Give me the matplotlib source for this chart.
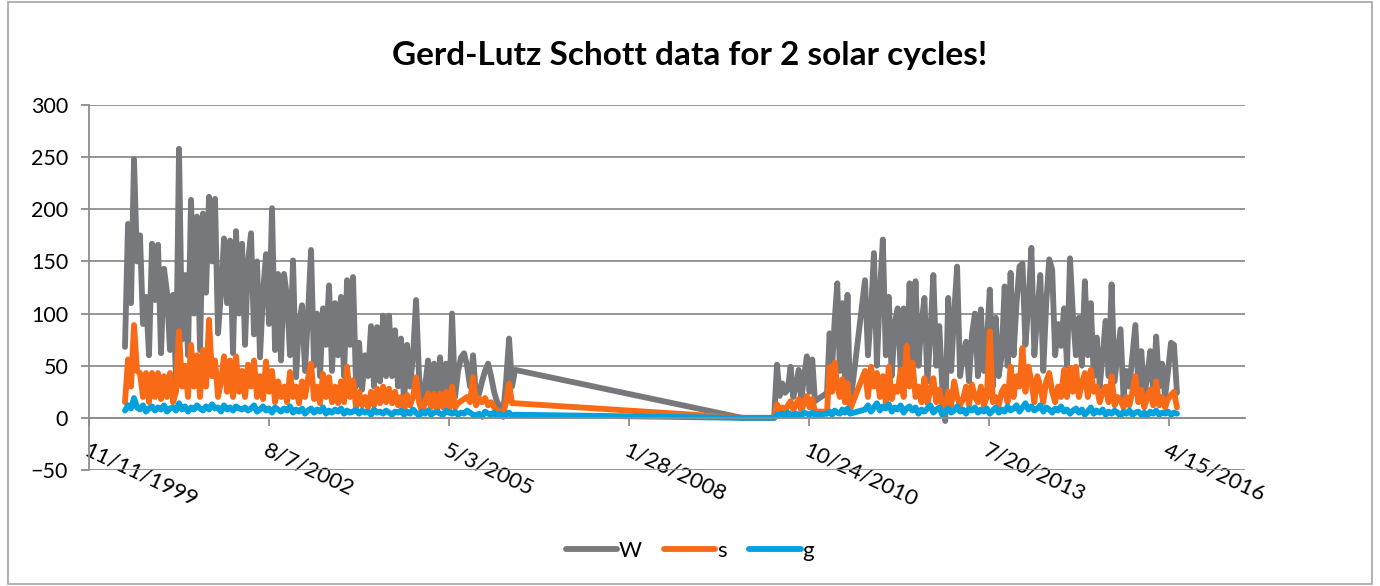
import pandas as pd
import matplotlib
matplotlib.use('Agg')
import matplotlib.pyplot as plt
from matplotlib.patches import Rectangle

plt.rcParams['font.family'] = ['Lato', 'DejaVu Sans']

# observation windows (the record has a gap 2006-2009 and a few sparse spells)
SEG1 = ('2000-05-29', '2006-05-05')
GAP_DATES = ['2009-10-17', '2010-04-13']
GAP_VALS = [0, 0]
SEG2A = ('2010-04-29', '2010-11-26')
SEG2B = ('2011-02-01', '2011-06-09')
SEG2C = ('2011-08-31', '2016-05-29')

# W series
w_seg1 = [68, 186, 110, 248, 150, 175, 90, 116, 60, 167,
          113, 166, 62, 143, 120, 65, 118, 37, 258, 75,
          137, 60, 209, 100, 193, 65, 196, 120, 212, 150,
          210, 81, 120, 172, 110, 170, 62, 179, 100, 167,
          70, 150, 177, 80, 150, 58, 120, 157, 90, 201,
          65, 138, 55, 138, 116, 60, 151, 39, 90, 108,
          45, 100, 161, 50, 100, 40, 105, 70, 127, 45,
          110, 60, 116, 40, 132, 70, 135, 30, 72, 27,
          60, 40, 88, 30, 87, 35, 98, 40, 98, 40,
          84, 30, 76, 14, 70, 30, 60, 113, 40, 7,
          30, 55, 20, 52, 15, 58, 20, 52, 10, 100,
          20, 45, 58, 62, 50, 30, 60, 20, 23, 35,
          45, 52, 40, 25, 15, 11, 4, 35, 76, 30, 46]
w_seg2a = [51, 21, 33, 24, 27, 49, 20, 30, 46, 18, 40, 59, 25, 56, 16]
w_seg2b = [24, 81, 50, 94, 129, 45, 110, 35, 118, 11]
w_seg2c = [132, 60, 100, 158, 50, 120, 171, 60, 116, 40,
           90, 105, 45, 105, 40, 129, 45, 131, 50, 90,
           115, 35, 80, 137, 50, 88, 30, -3, 115, 45,
           100, 145, 40, 60, 73, 35, 80, 100, 40, 104,
           45, 70, 123, 30, 96, 40, 60, 126, 50, 139,
           60, 110, 145, 148, 70, 110, 163, 60, 100, 137,
           45, 110, 152, 142, 60, 90, 69, 105, 50, 153,
           97, 60, 96, 50, 131, 60, 110, 40, 77, 30,
           60, 93, 40, 128, 35, 60, 85, 20, 45, 30,
           60, 89, 30, 64, 20, 40, 64, 25, 78, 30,
           52, 20, 45, 72, 70, 24]

# s series
s_seg1 = [15, 56, 30, 89, 45, 43, 20, 43, 15, 43,
          20, 43, 18, 40, 20, 43, 15, 25, 83, 30,
          50, 20, 70, 30, 60, 20, 65, 30, 94, 40,
          55, 20, 35, 59, 25, 55, 20, 59, 25, 45,
          20, 51, 30, 55, 20, 40, 18, 54, 25, 45,
          15, 35, 20, 30, 15, 44, 20, 30, 14, 35,
          20, 38, 52, 18, 30, 14, 42, 20, 39, 15,
          30, 14, 35, 15, 49, 20, 36, 10, 25, 12,
          20, 10, 25, 12, 28, 14, 30, 15, 28, 14,
          25, 12, 20, 6, 22, 12, 20, 39, 15, 5,
          15, 23, 10, 23, 8, 23, 10, 25, 8, 30,
          10, 14, 16, 18, 20, 15, 39, 12, 19, 15,
          19, 12, 15, 10, 7, 6, 3, 15, 33, 14, 14]
s_seg2a = [13, 8, 10, 6, 12, 16, 8, 12, 18, 7, 15, 21, 10, 18, 6]
s_seg2b = [6, 49, 25, 53, 30, 20, 37, 15, 33, 8]
s_seg2c = [45, 20, 49, 30, 43, 20, 40, 15, 49, 18,
           30, 25, 46, 20, 69, 30, 53, 20, 30, 15,
           38, 14, 27, 38, 15, 27, 12, 8, 25, 12,
           35, 20, 12, 18, 30, 12, 32, 20, 15, 30,
           12, 20, 83, 15, 20, 12, 25, 30, 15, 49,
           20, 40, 30, 67, 25, 49, 35, 15, 40, 30,
           15, 35, 43, 25, 15, 30, 20, 46, 20, 48,
           25, 49, 20, 33, 43, 20, 46, 25, 30, 15,
           25, 30, 15, 40, 12, 20, 17, 10, 20, 12,
           25, 40, 15, 27, 10, 20, 27, 12, 35, 12,
           20, 10, 18, 22, 25, 10]

# g series
g_seg1 = [7, 12, 9, 19, 10, 8, 12, 6, 9, 11,
          7, 10, 8, 12, 6, 9, 10, 7, 14, 8,
          11, 6, 10, 8, 12, 9, 7, 11, 8, 13,
          9, 10, 6, 12, 8, 10, 7, 11, 9, 8,
          10, 7, 9, 12, 6, 8, 11, 7, 9, 5,
          10, 8, 6, 9, 7, 11, 5, 8, 6, 9,
          4, 7, 9, 5, 8, 6, 10, 4, 7, 5,
          8, 6, 9, 4, 7, 5, 6, 8, 4, 7,
          5, 6, 3, 8, 5, 6, 4, 7, 5, 3, 6,
          5, 7, 3, 6, 4, 8, 5, 2, 6, 4,
          7, 3, 5, 6, 4, 3, 7, 5, 4, 6,
          3, 5, 4, 7, 5, 3, 2, 4, 1, 6,
          4, 3, 5, 2, 4, 1, 3, 5, 2, 3]
g_seg2a = [3, 2, 4, 2, 5, 3, 2, 4, 3, 2, 5, 4, 3, 5, 3]
g_seg2b = [4, 6, 3, 7, 5, 4, 8, 5, 9, 4]
g_seg2c = [8, 12, 6, 10, 14, 7, 11, 9, 13, 6,
           10, 8, 12, 5, 9, 11, 7, 10, 4, 8,
           6, 9, 12, 5, 8, 10, 3, 6, 9, 5,
           7, 11, 6, 8, 4, 9, 7, 10, 5, 8,
           6, 9, 4, 7, 10, 5, 8, 6, 11, 7,
           9, 12, 6, 10, 14, 8, 11, 7, 9, 12,
           6, 10, 8, 5, 9, 7, 11, 6, 8, 4,
           7, 9, 5, 8, 3, 6, 10, 4, 7, 5,
           8, 3, 6, 4, 7, 5, 2, 6, 4, 7,
           3, 5, 6, 3, 5, 2, 6, 4, 7, 3,
           5, 4, 6, 3, 5, 4]

TICK_START = '1999-11-11'
TICK_STEP_DAYS = 1000
X_END = '2017-06-11'


def build(seg1, seg2a, seg2b, seg2c):
    """join the observation windows into one dated series"""
    idx = pd.date_range(*SEG1, periods=len(seg1))
    idx = idx.append(pd.DatetimeIndex(GAP_DATES))
    idx = idx.append(pd.date_range(*SEG2A, periods=len(seg2a)))
    idx = idx.append(pd.date_range(*SEG2B, periods=len(seg2b)))
    idx = idx.append(pd.date_range(*SEG2C, periods=len(seg2c)))
    vals = list(seg1) + GAP_VALS + list(seg2a) + list(seg2b) + list(seg2c)
    return pd.Series(vals, index=idx)


series = {
    'W': (build(w_seg1, w_seg2a, w_seg2b, w_seg2c), '#77787b'),
    's': (build(s_seg1, s_seg2a, s_seg2b, s_seg2c), '#f96a17'),
    'g': (build(g_seg1, g_seg2a, g_seg2b, g_seg2c), '#00a1dc'),
}

grid_col = '#8e8e8e'

fig = plt.figure(figsize=(13.8, 5.86), dpi=100)
ax = fig.add_axes([89 / 1380, 116 / 586, 1156 / 1380, 365 / 586])

handles = []
for name, (ser, col) in series.items():
    h, = ax.plot(ser.index, ser.values, color=col, lw=4.2,
                 solid_joinstyle='round', solid_capstyle='round', label=name)
    handles.append(h)

ax.set_ylim(-50, 300)
ax.set_yticks(range(-50, 301, 50))
ax.set_xlim(pd.Timestamp(TICK_START), pd.Timestamp(X_END))
ticks = pd.date_range(TICK_START, periods=7, freq=f'{TICK_STEP_DAYS}D')
ax.set_xticks(ticks)
ax.set_xticklabels([f'{d.month}/{d.day}/{d.year}' for d in ticks])

ax.grid(axis='y', color=grid_col, lw=1.3)
ax.set_axisbelow(True)
for side in ('top', 'right'):
    ax.spines[side].set_visible(False)
ax.spines['left'].set_color(grid_col)
ax.spines['left'].set_linewidth(1.3)
ax.spines['bottom'].set_position(('data', 0))
ax.spines['bottom'].set_color(grid_col)
ax.spines['bottom'].set_linewidth(1.3)

ax.tick_params(axis='y', length=6, width=1.3, color=grid_col, labelsize=15.5, pad=9)
ax.tick_params(axis='x', length=6, width=1.3, color=grid_col, labelsize=16, pad=10)
for lab in ax.get_xticklabels():
    lab.set_rotation(-25)
    lab.set_ha('left')
    lab.set_va('top')
    lab.set_rotation_mode('anchor')

fig.text(0.5, 1 - 55 / 586, 'Gerd-Lutz Schott data for 2 solar cycles!',
         ha='center', va='center', fontsize=24, fontweight='bold')

fig.legend(handles, ['W', 's', 'g'], loc='center', bbox_to_anchor=(0.5, 1 - 551 / 586),
           ncol=3, frameon=False, fontsize=16, handlelength=2.3,
           handletextpad=0.1, columnspacing=1.0)

fig.patches.append(Rectangle((8 / 1380, 2 / 586), 1364 / 1380, 582 / 586,
                             transform=fig.transFigure, fill=False,
                             edgecolor='#a6a6a6', lw=1.2))

fig.savefig('out.png', dpi=100)
